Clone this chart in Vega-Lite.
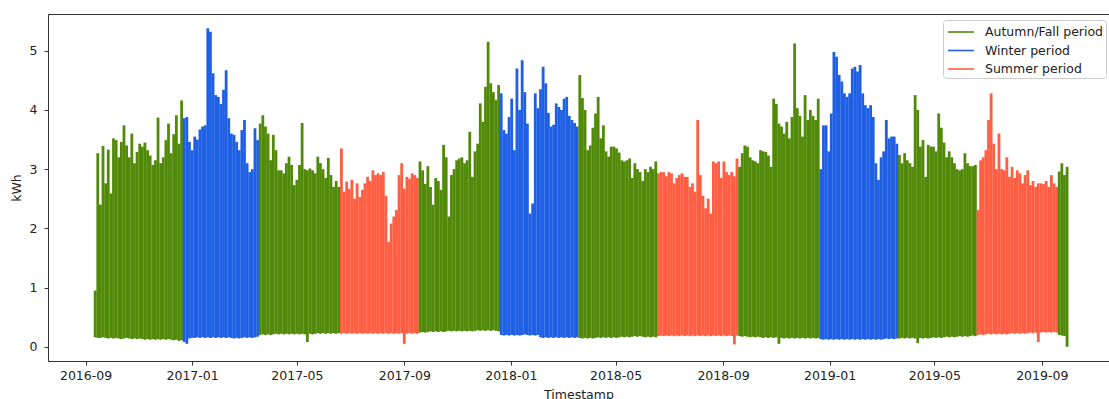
{
"$schema":"https://vega.github.io/schema/vega-lite/v6.json",
"width":1061,"height":347,
"autosize":{"type":"none"},
"padding":{"left":48,"top":14,"right":0,"bottom":38},
"background":"white",
"config":{"view":{"stroke":null},"font":"DejaVu Sans",
"axis":{"labelFont":"DejaVu Sans","labelFontSize":12.5,"labelColor":"#222","titleFont":"DejaVu Sans","titleFontSize":12.5,"titleFontWeight":"normal","titleColor":"#222","domainColor":"#333","tickColor":"#333","tickSize":4,"grid":false}},
"data":{"values":[
{"t":"2016-09-12","h":0.95,"l":0.16,"p":"A"},{"t":"2016-09-15","h":3.27,"l":0.15,"p":"A"},{"t":"2016-09-18","h":2.4,"l":0.15,"p":"A"},{"t":"2016-09-21","h":3.39,"l":0.16,"p":"A"},{"t":"2016-09-24","h":2.76,"l":0.15,"p":"A"},{"t":"2016-09-27","h":3.33,"l":0.14,"p":"A"},{"t":"2016-09-30","h":2.59,"l":0.15,"p":"A"},
{"t":"2016-10-03","h":3.52,"l":0.14,"p":"A"},{"t":"2016-10-06","h":3.49,"l":0.15,"p":"A"},{"t":"2016-10-09","h":3.2,"l":0.14,"p":"A"},{"t":"2016-10-12","h":3.46,"l":0.13,"p":"A"},{"t":"2016-10-15","h":3.74,"l":0.14,"p":"A"},{"t":"2016-10-18","h":3.4,"l":0.15,"p":"A"},{"t":"2016-10-21","h":3.2,"l":0.14,"p":"A"},{"t":"2016-10-24","h":3.6,"l":0.13,"p":"A"},{"t":"2016-10-27","h":3.1,"l":0.14,"p":"A"},{"t":"2016-10-30","h":3.29,"l":0.13,"p":"A"},
{"t":"2016-11-02","h":3.43,"l":0.14,"p":"A"},{"t":"2016-11-05","h":3.38,"l":0.13,"p":"A"},{"t":"2016-11-08","h":3.45,"l":0.12,"p":"A"},{"t":"2016-11-11","h":3.32,"l":0.13,"p":"A"},{"t":"2016-11-14","h":3.23,"l":0.12,"p":"A"},{"t":"2016-11-17","h":3.07,"l":0.13,"p":"A"},{"t":"2016-11-20","h":3.15,"l":0.12,"p":"A"},{"t":"2016-11-23","h":3.87,"l":0.13,"p":"A"},{"t":"2016-11-26","h":3.1,"l":0.12,"p":"A"},{"t":"2016-11-29","h":3.2,"l":0.13,"p":"A"},
{"t":"2016-12-02","h":3.49,"l":0.12,"p":"A"},{"t":"2016-12-05","h":3.77,"l":0.13,"p":"A"},{"t":"2016-12-08","h":3.27,"l":0.12,"p":"A"},{"t":"2016-12-11","h":3.59,"l":0.11,"p":"A"},{"t":"2016-12-14","h":3.91,"l":0.12,"p":"A"},{"t":"2016-12-17","h":3.43,"l":0.1,"p":"A"},{"t":"2016-12-20","h":4.16,"l":0.11,"p":"A"},
{"t":"2016-12-23","h":3.86,"l":0.08,"p":"W"},{"t":"2016-12-26","h":3.88,"l":0.05,"p":"W"},{"t":"2016-12-29","h":3.46,"l":0.14,"p":"W"},{"t":"2017-01-01","h":3.32,"l":0.15,"p":"W"},{"t":"2017-01-04","h":3.55,"l":0.15,"p":"W"},{"t":"2017-01-07","h":3.5,"l":0.16,"p":"W"},{"t":"2017-01-10","h":3.67,"l":0.15,"p":"W"},{"t":"2017-01-13","h":3.72,"l":0.16,"p":"W"},{"t":"2017-01-16","h":3.74,"l":0.15,"p":"W"},{"t":"2017-01-19","h":5.38,"l":0.16,"p":"W"},{"t":"2017-01-22","h":5.32,"l":0.15,"p":"W"},{"t":"2017-01-25","h":4.62,"l":0.16,"p":"W"},{"t":"2017-01-28","h":4.25,"l":0.15,"p":"W"},{"t":"2017-01-31","h":4.22,"l":0.16,"p":"W"},
{"t":"2017-02-03","h":4.1,"l":0.15,"p":"W"},{"t":"2017-02-06","h":4.34,"l":0.16,"p":"W"},{"t":"2017-02-09","h":4.67,"l":0.15,"p":"W"},{"t":"2017-02-12","h":3.86,"l":0.16,"p":"W"},{"t":"2017-02-15","h":3.6,"l":0.15,"p":"W"},{"t":"2017-02-18","h":3.58,"l":0.14,"p":"W"},{"t":"2017-02-21","h":3.46,"l":0.15,"p":"W"},{"t":"2017-02-24","h":3.32,"l":0.14,"p":"W"},{"t":"2017-02-27","h":3.66,"l":0.15,"p":"W"},
{"t":"2017-03-02","h":3.83,"l":0.16,"p":"W"},{"t":"2017-03-05","h":3.1,"l":0.15,"p":"W"},{"t":"2017-03-08","h":2.95,"l":0.16,"p":"W"},{"t":"2017-03-11","h":3.0,"l":0.15,"p":"W"},{"t":"2017-03-14","h":3.69,"l":0.16,"p":"W"},{"t":"2017-03-17","h":3.49,"l":0.17,"p":"W"},
{"t":"2017-03-20","h":3.77,"l":0.2,"p":"A"},{"t":"2017-03-23","h":3.91,"l":0.21,"p":"A"},{"t":"2017-03-26","h":3.72,"l":0.2,"p":"A"},{"t":"2017-03-29","h":3.6,"l":0.21,"p":"A"},{"t":"2017-04-01","h":3.15,"l":0.2,"p":"A"},{"t":"2017-04-04","h":3.58,"l":0.21,"p":"A"},{"t":"2017-04-07","h":3.32,"l":0.22,"p":"A"},{"t":"2017-04-10","h":2.98,"l":0.21,"p":"A"},{"t":"2017-04-13","h":2.98,"l":0.22,"p":"A"},{"t":"2017-04-16","h":2.93,"l":0.21,"p":"A"},{"t":"2017-04-19","h":3.1,"l":0.22,"p":"A"},{"t":"2017-04-22","h":3.21,"l":0.21,"p":"A"},{"t":"2017-04-25","h":3.07,"l":0.22,"p":"A"},{"t":"2017-04-28","h":2.73,"l":0.21,"p":"A"},
{"t":"2017-05-01","h":2.82,"l":0.22,"p":"A"},{"t":"2017-05-04","h":3.07,"l":0.21,"p":"A"},{"t":"2017-05-07","h":3.78,"l":0.22,"p":"A"},{"t":"2017-05-10","h":3.0,"l":0.21,"p":"A"},{"t":"2017-05-13","h":2.98,"l":0.08,"p":"A"},{"t":"2017-05-16","h":3.01,"l":0.22,"p":"A"},{"t":"2017-05-19","h":2.98,"l":0.21,"p":"A"},{"t":"2017-05-22","h":2.93,"l":0.22,"p":"A"},{"t":"2017-05-25","h":3.21,"l":0.23,"p":"A"},{"t":"2017-05-28","h":3.1,"l":0.22,"p":"A"},{"t":"2017-05-31","h":3.0,"l":0.23,"p":"A"},
{"t":"2017-06-03","h":2.85,"l":0.22,"p":"A"},{"t":"2017-06-06","h":3.19,"l":0.23,"p":"A"},{"t":"2017-06-09","h":2.9,"l":0.22,"p":"A"},{"t":"2017-06-12","h":2.7,"l":0.23,"p":"A"},{"t":"2017-06-15","h":2.8,"l":0.22,"p":"A"},{"t":"2017-06-18","h":2.7,"l":0.23,"p":"A"},
{"t":"2017-06-21","h":3.35,"l":0.22,"p":"S"},{"t":"2017-06-24","h":2.62,"l":0.23,"p":"S"},{"t":"2017-06-27","h":2.79,"l":0.22,"p":"S"},{"t":"2017-06-30","h":2.67,"l":0.23,"p":"S"},{"t":"2017-07-03","h":2.82,"l":0.22,"p":"S"},{"t":"2017-07-06","h":2.5,"l":0.23,"p":"S"},{"t":"2017-07-09","h":2.76,"l":0.22,"p":"S"},{"t":"2017-07-12","h":2.53,"l":0.23,"p":"S"},{"t":"2017-07-15","h":2.65,"l":0.22,"p":"S"},{"t":"2017-07-18","h":2.76,"l":0.23,"p":"S"},{"t":"2017-07-21","h":2.87,"l":0.22,"p":"S"},{"t":"2017-07-24","h":2.8,"l":0.23,"p":"S"},{"t":"2017-07-27","h":2.98,"l":0.22,"p":"S"},{"t":"2017-07-30","h":2.9,"l":0.23,"p":"S"},
{"t":"2017-08-02","h":2.93,"l":0.22,"p":"S"},{"t":"2017-08-05","h":2.9,"l":0.23,"p":"S"},{"t":"2017-08-08","h":2.95,"l":0.22,"p":"S"},{"t":"2017-08-11","h":2.55,"l":0.23,"p":"S"},{"t":"2017-08-14","h":1.77,"l":0.22,"p":"S"},{"t":"2017-08-17","h":2.08,"l":0.23,"p":"S"},{"t":"2017-08-20","h":2.2,"l":0.22,"p":"S"},{"t":"2017-08-23","h":2.31,"l":0.23,"p":"S"},{"t":"2017-08-26","h":2.9,"l":0.22,"p":"S"},{"t":"2017-08-29","h":3.1,"l":0.23,"p":"S"},
{"t":"2017-09-01","h":2.67,"l":0.05,"p":"S"},{"t":"2017-09-04","h":2.87,"l":0.22,"p":"S"},{"t":"2017-09-07","h":2.84,"l":0.23,"p":"S"},{"t":"2017-09-10","h":2.93,"l":0.22,"p":"S"},{"t":"2017-09-13","h":2.9,"l":0.23,"p":"S"},{"t":"2017-09-16","h":2.85,"l":0.22,"p":"S"},
{"t":"2017-09-19","h":3.13,"l":0.24,"p":"A"},{"t":"2017-09-22","h":2.98,"l":0.25,"p":"A"},{"t":"2017-09-25","h":2.75,"l":0.24,"p":"A"},{"t":"2017-09-28","h":3.05,"l":0.25,"p":"A"},{"t":"2017-10-01","h":2.7,"l":0.26,"p":"A"},{"t":"2017-10-04","h":2.4,"l":0.25,"p":"A"},{"t":"2017-10-07","h":2.85,"l":0.26,"p":"A"},{"t":"2017-10-10","h":2.8,"l":0.25,"p":"A"},{"t":"2017-10-13","h":2.65,"l":0.26,"p":"A"},{"t":"2017-10-16","h":3.41,"l":0.25,"p":"A"},{"t":"2017-10-19","h":3.2,"l":0.26,"p":"A"},{"t":"2017-10-22","h":2.2,"l":0.27,"p":"A"},{"t":"2017-10-25","h":2.9,"l":0.26,"p":"A"},{"t":"2017-10-28","h":3.0,"l":0.27,"p":"A"},{"t":"2017-10-31","h":3.15,"l":0.26,"p":"A"},
{"t":"2017-11-03","h":3.18,"l":0.27,"p":"A"},{"t":"2017-11-06","h":3.2,"l":0.26,"p":"A"},{"t":"2017-11-09","h":3.1,"l":0.27,"p":"A"},{"t":"2017-11-12","h":3.15,"l":0.26,"p":"A"},{"t":"2017-11-15","h":3.63,"l":0.27,"p":"A"},{"t":"2017-11-18","h":2.87,"l":0.26,"p":"A"},{"t":"2017-11-21","h":3.3,"l":0.27,"p":"A"},{"t":"2017-11-24","h":3.43,"l":0.28,"p":"A"},{"t":"2017-11-27","h":4.11,"l":0.27,"p":"A"},{"t":"2017-11-30","h":3.8,"l":0.28,"p":"A"},
{"t":"2017-12-03","h":4.39,"l":0.27,"p":"A"},{"t":"2017-12-06","h":5.15,"l":0.28,"p":"A"},{"t":"2017-12-09","h":4.45,"l":0.27,"p":"A"},{"t":"2017-12-12","h":4.3,"l":0.28,"p":"A"},{"t":"2017-12-15","h":4.17,"l":0.27,"p":"A"},{"t":"2017-12-18","h":4.42,"l":0.26,"p":"A"},
{"t":"2017-12-21","h":4.28,"l":0.2,"p":"W"},{"t":"2017-12-24","h":3.66,"l":0.19,"p":"W"},{"t":"2017-12-27","h":3.6,"l":0.2,"p":"W"},{"t":"2017-12-30","h":3.88,"l":0.19,"p":"W"},{"t":"2018-01-02","h":4.19,"l":0.2,"p":"W"},{"t":"2018-01-05","h":3.32,"l":0.19,"p":"W"},{"t":"2018-01-08","h":4.7,"l":0.2,"p":"W"},{"t":"2018-01-11","h":4.0,"l":0.19,"p":"W"},{"t":"2018-01-14","h":4.84,"l":0.2,"p":"W"},{"t":"2018-01-17","h":4.3,"l":0.21,"p":"W"},{"t":"2018-01-20","h":3.77,"l":0.2,"p":"W"},{"t":"2018-01-23","h":2.25,"l":0.19,"p":"W"},{"t":"2018-01-26","h":2.42,"l":0.2,"p":"W"},{"t":"2018-01-29","h":4.28,"l":0.19,"p":"W"},
{"t":"2018-02-01","h":4.03,"l":0.2,"p":"W"},{"t":"2018-02-04","h":4.35,"l":0.16,"p":"W"},{"t":"2018-02-07","h":4.73,"l":0.15,"p":"W"},{"t":"2018-02-10","h":4.45,"l":0.16,"p":"W"},{"t":"2018-02-13","h":3.95,"l":0.15,"p":"W"},{"t":"2018-02-16","h":3.72,"l":0.16,"p":"W"},{"t":"2018-02-19","h":3.75,"l":0.15,"p":"W"},{"t":"2018-02-22","h":4.11,"l":0.16,"p":"W"},{"t":"2018-02-25","h":4.05,"l":0.15,"p":"W"},{"t":"2018-02-28","h":4.0,"l":0.16,"p":"W"},
{"t":"2018-03-03","h":4.19,"l":0.15,"p":"W"},{"t":"2018-03-06","h":4.22,"l":0.16,"p":"W"},{"t":"2018-03-09","h":3.9,"l":0.15,"p":"W"},{"t":"2018-03-12","h":3.83,"l":0.16,"p":"W"},{"t":"2018-03-15","h":3.78,"l":0.15,"p":"W"},{"t":"2018-03-18","h":3.72,"l":0.16,"p":"W"},
{"t":"2018-03-21","h":4.59,"l":0.15,"p":"A"},{"t":"2018-03-24","h":4.2,"l":0.14,"p":"A"},{"t":"2018-03-27","h":4.0,"l":0.15,"p":"A"},{"t":"2018-03-30","h":3.32,"l":0.14,"p":"A"},{"t":"2018-04-02","h":3.4,"l":0.15,"p":"A"},{"t":"2018-04-05","h":3.7,"l":0.14,"p":"A"},{"t":"2018-04-08","h":3.94,"l":0.15,"p":"A"},{"t":"2018-04-11","h":4.22,"l":0.16,"p":"A"},{"t":"2018-04-14","h":3.52,"l":0.15,"p":"A"},{"t":"2018-04-17","h":3.74,"l":0.16,"p":"A"},{"t":"2018-04-20","h":3.3,"l":0.15,"p":"A"},{"t":"2018-04-23","h":3.21,"l":0.16,"p":"A"},{"t":"2018-04-26","h":3.38,"l":0.15,"p":"A"},{"t":"2018-04-29","h":3.38,"l":0.16,"p":"A"},
{"t":"2018-05-02","h":3.35,"l":0.15,"p":"A"},{"t":"2018-05-05","h":3.28,"l":0.16,"p":"A"},{"t":"2018-05-08","h":3.15,"l":0.17,"p":"A"},{"t":"2018-05-11","h":3.13,"l":0.16,"p":"A"},{"t":"2018-05-14","h":3.15,"l":0.17,"p":"A"},{"t":"2018-05-17","h":3.18,"l":0.16,"p":"A"},{"t":"2018-05-20","h":2.85,"l":0.17,"p":"A"},{"t":"2018-05-23","h":3.1,"l":0.18,"p":"A"},{"t":"2018-05-26","h":3.0,"l":0.17,"p":"A"},{"t":"2018-05-29","h":2.95,"l":0.18,"p":"A"},
{"t":"2018-06-01","h":2.8,"l":0.17,"p":"A"},{"t":"2018-06-04","h":3.0,"l":0.16,"p":"A"},{"t":"2018-06-07","h":2.95,"l":0.17,"p":"A"},{"t":"2018-06-10","h":3.04,"l":0.16,"p":"A"},{"t":"2018-06-13","h":3.0,"l":0.17,"p":"A"},{"t":"2018-06-16","h":3.13,"l":0.16,"p":"A"},
{"t":"2018-06-19","h":2.93,"l":0.18,"p":"S"},{"t":"2018-06-22","h":2.95,"l":0.19,"p":"S"},{"t":"2018-06-25","h":2.95,"l":0.18,"p":"S"},{"t":"2018-06-28","h":2.88,"l":0.19,"p":"S"},{"t":"2018-07-01","h":2.95,"l":0.18,"p":"S"},{"t":"2018-07-04","h":2.93,"l":0.19,"p":"S"},{"t":"2018-07-07","h":2.76,"l":0.18,"p":"S"},{"t":"2018-07-10","h":2.85,"l":0.19,"p":"S"},{"t":"2018-07-13","h":2.9,"l":0.18,"p":"S"},{"t":"2018-07-16","h":2.93,"l":0.19,"p":"S"},{"t":"2018-07-19","h":2.87,"l":0.18,"p":"S"},{"t":"2018-07-22","h":2.87,"l":0.19,"p":"S"},{"t":"2018-07-25","h":2.7,"l":0.18,"p":"S"},{"t":"2018-07-28","h":2.76,"l":0.19,"p":"S"},{"t":"2018-07-31","h":2.62,"l":0.18,"p":"S"},
{"t":"2018-08-03","h":3.83,"l":0.19,"p":"S"},{"t":"2018-08-06","h":2.9,"l":0.18,"p":"S"},{"t":"2018-08-09","h":2.55,"l":0.19,"p":"S"},{"t":"2018-08-12","h":2.34,"l":0.18,"p":"S"},{"t":"2018-08-15","h":2.5,"l":0.19,"p":"S"},{"t":"2018-08-18","h":2.25,"l":0.18,"p":"S"},{"t":"2018-08-21","h":3.13,"l":0.19,"p":"S"},{"t":"2018-08-24","h":3.1,"l":0.18,"p":"S"},{"t":"2018-08-27","h":3.13,"l":0.19,"p":"S"},{"t":"2018-08-30","h":2.85,"l":0.18,"p":"S"},
{"t":"2018-09-02","h":3.13,"l":0.19,"p":"S"},{"t":"2018-09-05","h":2.95,"l":0.18,"p":"S"},{"t":"2018-09-08","h":2.9,"l":0.19,"p":"S"},{"t":"2018-09-11","h":2.95,"l":0.18,"p":"S"},{"t":"2018-09-14","h":2.88,"l":0.04,"p":"S"},{"t":"2018-09-17","h":3.18,"l":0.19,"p":"S"},
{"t":"2018-09-20","h":3.04,"l":0.18,"p":"A"},{"t":"2018-09-23","h":3.27,"l":0.17,"p":"A"},{"t":"2018-09-26","h":3.4,"l":0.18,"p":"A"},{"t":"2018-09-29","h":3.38,"l":0.17,"p":"A"},{"t":"2018-10-02","h":3.2,"l":0.16,"p":"A"},{"t":"2018-10-05","h":3.15,"l":0.17,"p":"A"},{"t":"2018-10-08","h":3.13,"l":0.16,"p":"A"},{"t":"2018-10-11","h":3.1,"l":0.17,"p":"A"},{"t":"2018-10-14","h":3.32,"l":0.16,"p":"A"},{"t":"2018-10-17","h":3.3,"l":0.15,"p":"A"},{"t":"2018-10-20","h":3.29,"l":0.16,"p":"A"},{"t":"2018-10-23","h":3.23,"l":0.15,"p":"A"},{"t":"2018-10-26","h":3.04,"l":0.16,"p":"A"},{"t":"2018-10-29","h":4.19,"l":0.15,"p":"A"},
{"t":"2018-11-01","h":4.1,"l":0.16,"p":"A"},{"t":"2018-11-04","h":3.77,"l":0.05,"p":"A"},{"t":"2018-11-07","h":3.72,"l":0.15,"p":"A"},{"t":"2018-11-10","h":3.6,"l":0.14,"p":"A"},{"t":"2018-11-13","h":3.8,"l":0.15,"p":"A"},{"t":"2018-11-16","h":3.52,"l":0.14,"p":"A"},{"t":"2018-11-19","h":3.88,"l":0.15,"p":"A"},{"t":"2018-11-22","h":5.12,"l":0.14,"p":"A"},{"t":"2018-11-25","h":4.03,"l":0.15,"p":"A"},{"t":"2018-11-28","h":3.9,"l":0.14,"p":"A"},
{"t":"2018-12-01","h":3.55,"l":0.15,"p":"A"},{"t":"2018-12-04","h":4.25,"l":0.14,"p":"A"},{"t":"2018-12-07","h":3.83,"l":0.15,"p":"A"},{"t":"2018-12-10","h":4.0,"l":0.14,"p":"A"},{"t":"2018-12-13","h":3.9,"l":0.15,"p":"A"},{"t":"2018-12-16","h":3.83,"l":0.14,"p":"A"},{"t":"2018-12-19","h":4.19,"l":0.15,"p":"A"},
{"t":"2018-12-22","h":3.0,"l":0.13,"p":"W"},{"t":"2018-12-25","h":3.74,"l":0.12,"p":"W"},{"t":"2018-12-28","h":3.74,"l":0.13,"p":"W"},{"t":"2018-12-31","h":3.3,"l":0.12,"p":"W"},{"t":"2019-01-03","h":3.94,"l":0.13,"p":"W"},{"t":"2019-01-06","h":4.98,"l":0.12,"p":"W"},{"t":"2019-01-09","h":4.9,"l":0.13,"p":"W"},{"t":"2019-01-12","h":4.59,"l":0.12,"p":"W"},{"t":"2019-01-15","h":4.48,"l":0.13,"p":"W"},{"t":"2019-01-18","h":4.28,"l":0.12,"p":"W"},{"t":"2019-01-21","h":4.22,"l":0.13,"p":"W"},{"t":"2019-01-24","h":4.28,"l":0.12,"p":"W"},{"t":"2019-01-27","h":4.7,"l":0.13,"p":"W"},{"t":"2019-01-30","h":4.73,"l":0.12,"p":"W"},
{"t":"2019-02-02","h":4.65,"l":0.13,"p":"W"},{"t":"2019-02-05","h":4.76,"l":0.12,"p":"W"},{"t":"2019-02-08","h":4.28,"l":0.13,"p":"W"},{"t":"2019-02-11","h":4.08,"l":0.12,"p":"W"},{"t":"2019-02-14","h":4.03,"l":0.13,"p":"W"},{"t":"2019-02-17","h":4.08,"l":0.12,"p":"W"},{"t":"2019-02-20","h":3.88,"l":0.13,"p":"W"},{"t":"2019-02-23","h":3.1,"l":0.12,"p":"W"},{"t":"2019-02-26","h":2.82,"l":0.13,"p":"W"},
{"t":"2019-03-01","h":3.2,"l":0.12,"p":"W"},{"t":"2019-03-04","h":3.3,"l":0.13,"p":"W"},{"t":"2019-03-07","h":3.83,"l":0.14,"p":"W"},{"t":"2019-03-10","h":3.52,"l":0.13,"p":"W"},{"t":"2019-03-13","h":3.55,"l":0.14,"p":"W"},{"t":"2019-03-16","h":3.55,"l":0.13,"p":"W"},{"t":"2019-03-19","h":3.43,"l":0.14,"p":"W"},
{"t":"2019-03-22","h":3.24,"l":0.14,"p":"A"},{"t":"2019-03-25","h":3.1,"l":0.15,"p":"A"},{"t":"2019-03-28","h":3.27,"l":0.14,"p":"A"},{"t":"2019-03-31","h":3.15,"l":0.15,"p":"A"},{"t":"2019-04-03","h":3.1,"l":0.14,"p":"A"},{"t":"2019-04-06","h":3.04,"l":0.15,"p":"A"},{"t":"2019-04-09","h":4.25,"l":0.14,"p":"A"},{"t":"2019-04-12","h":4.0,"l":0.06,"p":"A"},{"t":"2019-04-15","h":3.38,"l":0.15,"p":"A"},{"t":"2019-04-18","h":3.49,"l":0.14,"p":"A"},{"t":"2019-04-21","h":2.87,"l":0.15,"p":"A"},{"t":"2019-04-24","h":3.41,"l":0.14,"p":"A"},{"t":"2019-04-27","h":3.38,"l":0.15,"p":"A"},{"t":"2019-04-30","h":3.38,"l":0.16,"p":"A"},
{"t":"2019-05-03","h":3.3,"l":0.15,"p":"A"},{"t":"2019-05-06","h":3.94,"l":0.16,"p":"A"},{"t":"2019-05-09","h":3.7,"l":0.15,"p":"A"},{"t":"2019-05-12","h":3.45,"l":0.16,"p":"A"},{"t":"2019-05-15","h":3.2,"l":0.17,"p":"A"},{"t":"2019-05-18","h":3.3,"l":0.16,"p":"A"},{"t":"2019-05-21","h":3.2,"l":0.17,"p":"A"},{"t":"2019-05-24","h":3.1,"l":0.16,"p":"A"},{"t":"2019-05-27","h":3.0,"l":0.17,"p":"A"},{"t":"2019-05-30","h":2.98,"l":0.18,"p":"A"},
{"t":"2019-06-02","h":3.0,"l":0.17,"p":"A"},{"t":"2019-06-05","h":3.27,"l":0.18,"p":"A"},{"t":"2019-06-08","h":3.1,"l":0.17,"p":"A"},{"t":"2019-06-11","h":3.05,"l":0.18,"p":"A"},{"t":"2019-06-14","h":3.05,"l":0.19,"p":"A"},{"t":"2019-06-17","h":3.07,"l":0.18,"p":"A"},
{"t":"2019-06-20","h":2.31,"l":0.2,"p":"S"},{"t":"2019-06-23","h":3.15,"l":0.21,"p":"S"},{"t":"2019-06-26","h":3.2,"l":0.2,"p":"S"},{"t":"2019-06-29","h":3.32,"l":0.21,"p":"S"},{"t":"2019-07-02","h":3.83,"l":0.22,"p":"S"},{"t":"2019-07-05","h":4.28,"l":0.21,"p":"S"},{"t":"2019-07-08","h":3.43,"l":0.22,"p":"S"},{"t":"2019-07-11","h":3.0,"l":0.21,"p":"S"},{"t":"2019-07-14","h":3.6,"l":0.22,"p":"S"},{"t":"2019-07-17","h":3.0,"l":0.21,"p":"S"},{"t":"2019-07-20","h":2.98,"l":0.22,"p":"S"},{"t":"2019-07-23","h":3.2,"l":0.21,"p":"S"},{"t":"2019-07-26","h":2.87,"l":0.22,"p":"S"},{"t":"2019-07-29","h":3.04,"l":0.23,"p":"S"},
{"t":"2019-08-01","h":2.85,"l":0.22,"p":"S"},{"t":"2019-08-04","h":2.98,"l":0.23,"p":"S"},{"t":"2019-08-07","h":2.93,"l":0.22,"p":"S"},{"t":"2019-08-10","h":2.76,"l":0.23,"p":"S"},{"t":"2019-08-13","h":2.9,"l":0.22,"p":"S"},{"t":"2019-08-16","h":2.98,"l":0.23,"p":"S"},{"t":"2019-08-19","h":2.73,"l":0.24,"p":"S"},{"t":"2019-08-22","h":2.8,"l":0.23,"p":"S"},{"t":"2019-08-25","h":2.7,"l":0.24,"p":"S"},{"t":"2019-08-28","h":2.76,"l":0.08,"p":"S"},{"t":"2019-08-31","h":2.76,"l":0.24,"p":"S"},
{"t":"2019-09-03","h":2.75,"l":0.25,"p":"S"},{"t":"2019-09-06","h":2.8,"l":0.24,"p":"S"},{"t":"2019-09-09","h":2.7,"l":0.25,"p":"S"},{"t":"2019-09-12","h":2.9,"l":0.24,"p":"S"},{"t":"2019-09-15","h":2.76,"l":0.25,"p":"S"},{"t":"2019-09-18","h":2.7,"l":0.24,"p":"S"},
{"t":"2019-09-21","h":2.96,"l":0.2,"p":"A"},{"t":"2019-09-24","h":3.1,"l":0.19,"p":"A"},{"t":"2019-09-27","h":2.9,"l":0.18,"p":"A"},{"t":"2019-09-30","h":3.04,"l":0.0,"p":"A"}
]},
"layer":[
{"mark":{"type":"rule","strokeWidth":2.8},
"encoding":{
"x":{"field":"t","type":"temporal","scale":{"type":"utc","domain":[{"year":2016,"month":7,"date":20,"utc":true},{"year":2019,"month":11,"date":17,"utc":true}]},
"axis":{"orient":"bottom","title":"Timestamp","values":[{"year":2016,"month":9,"date":1,"utc":true},{"year":2017,"month":1,"date":1,"utc":true},{"year":2017,"month":5,"date":1,"utc":true},{"year":2017,"month":9,"date":1,"utc":true},{"year":2018,"month":1,"date":1,"utc":true},{"year":2018,"month":5,"date":1,"utc":true},{"year":2018,"month":9,"date":1,"utc":true},{"year":2019,"month":1,"date":1,"utc":true},{"year":2019,"month":5,"date":1,"utc":true},{"year":2019,"month":9,"date":1,"utc":true}],"labelExpr":"utcFormat(datum.value, '%Y-%m')","labelAngle":0,"labelFlush":false,"labelOverlap":false,"labelPadding":4,"titlePadding":7}},
"y":{"field":"h","type":"quantitative","scale":{"domain":[-0.24,5.62],"nice":false,"zero":false},"axis":{"title":"kWh","values":[0,1,2,3,4,5],"format":"d","labelPadding":7,"titlePadding":6}},
"y2":{"field":"l"},
"color":{"field":"p","type":"nominal","scale":{"domain":["A","W","S"],"range":["#508a08","#1f5fe4","#ff5e43"]},
"legend":{"title":null,"orient":"none","legendX":895,"legendY":6,"labelExpr":"datum.label == 'A' ? 'Autumn/Fall period' : datum.label == 'W' ? 'Winter period' : 'Summer period'","symbolType":"M-0.78,0H2.1","symbolSize":324,"symbolStrokeWidth":1.6,"labelOffset":20,"labelFont":"DejaVu Sans","labelFontSize":12.5,"labelColor":"#222","padding":2,"rowPadding":1.5,"strokeColor":"#cccccc","fillColor":"white","cornerRadius":3}}
}},
{"data":{"values":[{"t":"2017-01-01"}]},
"mark":{"type":"rule","opacity":0},
"encoding":{"x":{"field":"t","type":"temporal","scale":{"type":"utc"},"axis":{"orient":"top","labels":false,"ticks":false,"title":null,"domain":true}}}}
],
"resolve":{"axis":{"x":"independent"}}
}
